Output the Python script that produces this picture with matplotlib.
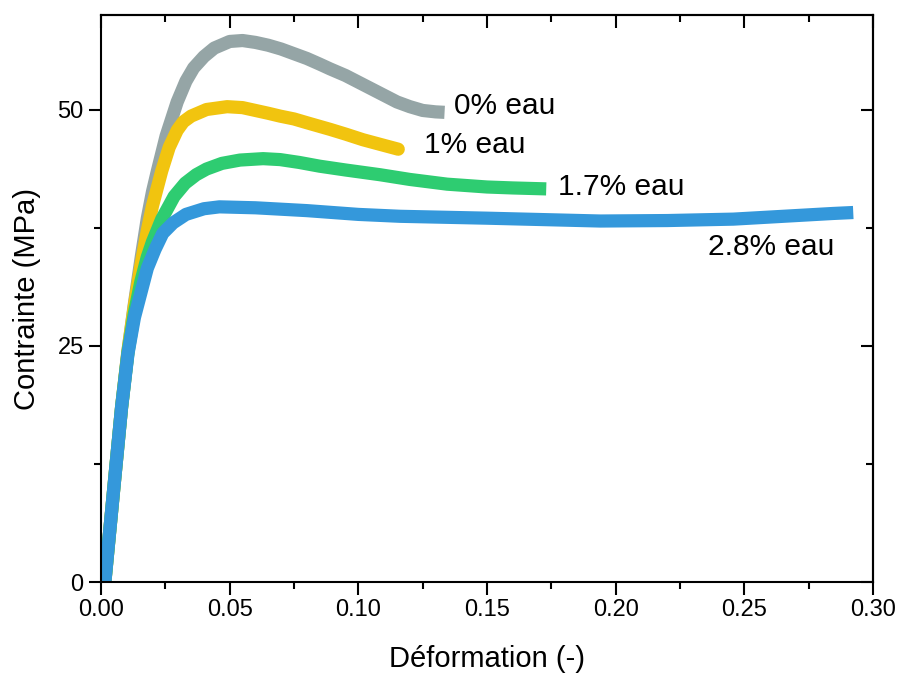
import matplotlib
matplotlib.use("Agg")
import matplotlib.pyplot as plt
from matplotlib.ticker import MultipleLocator

plt.rcParams["font.family"] = ["Liberation Sans", "DejaVu Sans"]

# strain (-) / stress (MPa)
x_0 = [0.0015, 0.005, 0.008, 0.0105, 0.013, 0.0157, 0.018, 0.020, 0.022,
       0.0253, 0.0296, 0.033, 0.036, 0.040, 0.044, 0.050, 0.055, 0.060,
       0.065, 0.070, 0.075, 0.080, 0.085, 0.089, 0.095, 0.100, 0.105,
       0.110, 0.115, 0.120, 0.125, 0.130, 0.1335]
y_0 = [0.0, 10.0, 18.5, 24.5, 29.5, 34.5, 38.5, 41.3, 43.6,
       47.2, 50.8, 53.0, 54.4, 55.6, 56.5, 57.2, 57.3, 57.1,
       56.8, 56.4, 55.9, 55.4, 54.8, 54.3, 53.6, 52.9, 52.2,
       51.5, 50.8, 50.3, 49.9, 49.75, 49.7]

x_1 = [0.0015, 0.005, 0.008, 0.0105, 0.013, 0.0155, 0.018, 0.020, 0.0236,
       0.0265, 0.0296, 0.032, 0.035, 0.041, 0.049, 0.055, 0.060, 0.065,
       0.0696, 0.075, 0.080, 0.089, 0.095, 0.1018, 0.110, 0.1155]
y_1 = [0.0, 10.0, 18.5, 24.5, 29.3, 33.5, 37.2, 39.8, 43.5,
       46.0, 47.8, 48.7, 49.3, 50.0, 50.3, 50.2, 49.9, 49.6,
       49.3, 49.0, 48.6, 47.9, 47.4, 46.8, 46.2, 45.8]

x_17 = [0.0015, 0.005, 0.008, 0.0105, 0.013, 0.0155, 0.018, 0.020, 0.0236,
        0.0284, 0.0327, 0.037, 0.041, 0.047, 0.054, 0.063, 0.0696, 0.077,
        0.085, 0.095, 0.1084, 0.120, 0.1345, 0.150, 0.160, 0.173]
y_17 = [0.0, 10.0, 18.5, 24.3, 28.5, 31.8, 34.4, 36.0, 38.4,
        40.8, 42.2, 43.1, 43.7, 44.3, 44.65, 44.8, 44.7, 44.4,
        44.0, 43.6, 43.1, 42.6, 42.1, 41.8, 41.7, 41.6]

x_28 = [0.0015, 0.005, 0.008, 0.0105, 0.013, 0.0155, 0.018, 0.021, 0.024,
        0.028, 0.033, 0.040, 0.046, 0.060, 0.080, 0.100, 0.1162, 0.150,
        0.194, 0.220, 0.2457, 0.2845, 0.2923]
y_28 = [0.0, 10.0, 18.5, 24.2, 28.0, 30.6, 33.2, 35.2, 36.9,
        38.0, 38.9, 39.5, 39.7, 39.6, 39.3, 38.9, 38.7, 38.5,
        38.2, 38.25, 38.4, 39.0, 39.1]

labels = ["0% eau", "1% eau", "1.7% eau", "2.8% eau"]
colors = ["#95a5a6", "#f1c40f", "#2ecc71", "#3498db"]
label_pos = [(0.137, 50.4), (0.1255, 46.2), (0.1776, 41.8), (0.236, 35.4)]

fig = plt.figure(figsize=(9.01, 6.73), dpi=100)
ax = fig.add_axes([0.1121, 0.1352, 0.8569, 0.8425])

series = [(x_0, y_0), (x_1, y_1), (x_17, y_17), (x_28, y_28)]
caps = ["butt", "round", "butt", "butt"]
for (xs, ys), c, cap in zip(series, colors, caps):
    ax.plot(xs, ys, color=c, lw=9.5, solid_capstyle=cap, solid_joinstyle="round")

for lab, (lx, ly) in zip(labels, label_pos):
    ax.text(lx, ly, lab, fontsize=21.5, va="center", ha="left")

ax.set_xlim(0, 0.30)
ax.set_ylim(0, 60)
ax.xaxis.set_minor_locator(MultipleLocator(0.025))
ax.yaxis.set_major_locator(MultipleLocator(25))
ax.yaxis.set_minor_locator(MultipleLocator(12.5))
ax.set_xticks([0, 0.05, 0.10, 0.15, 0.20, 0.25, 0.30])
ax.set_xticklabels(["0.00", "0.05", "0.10", "0.15", "0.20", "0.25", "0.30"])

for s in ax.spines.values():
    s.set_linewidth(1.5)

ax.tick_params(which="both", direction="out", width=1.5, labelsize=17,
               top=False, right=False)
ax.tick_params(which="major", length=9)
ax.tick_params(which="minor", length=5)

# inward ticks on top and right
sec_x = ax.secondary_xaxis("top")
sec_x.set_xticks([0, 0.05, 0.10, 0.15, 0.20, 0.25, 0.30])
sec_x.xaxis.set_minor_locator(MultipleLocator(0.025))
sec_x.tick_params(which="both", direction="in", width=1.5, labeltop=False)
sec_x.tick_params(which="major", length=9)
sec_x.tick_params(which="minor", length=5)
sec_y = ax.secondary_yaxis("right")
sec_y.set_yticks([0, 25, 50])
sec_y.yaxis.set_minor_locator(MultipleLocator(12.5))
sec_y.tick_params(which="both", direction="in", width=1.5, labelright=False)
sec_y.tick_params(which="major", length=9)
sec_y.tick_params(which="minor", length=5)
for sec in (sec_x, sec_y):
    for s in sec.spines.values():
        s.set_linewidth(1.5)

ax.set_xlabel("Déformation (-)", fontsize=21, labelpad=17)
ax.set_ylabel("Contrainte (MPa)", fontsize=21, labelpad=12)

fig.savefig("out.png", dpi=100)
